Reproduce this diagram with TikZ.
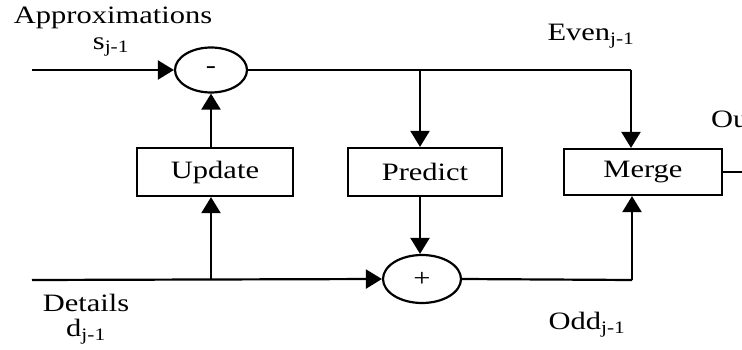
\documentclass[tikz,border=0pt]{standalone}
\usepackage{fontspec}
\setmainfont{Liberation Serif}
\usetikzlibrary{arrows.meta,shapes.geometric}
% horizontally widened text
\newcommand\wide[1]{\scalebox{1.22}[1]{#1}}
\begin{document}
\begin{tikzpicture}[x=1pt,y=-1pt,line width=2.2pt,
  tip/.style={-{Triangle[length=16pt,width=19pt]}},
  blockbox/.style={draw,minimum width=155pt,minimum height=48pt,inner sep=0pt,
    font=\fontsize{25}{28}\selectfont},
  sumnode/.style={draw,ellipse,minimum width=72pt,minimum height=45pt,inner sep=0pt,
    font=\fontsize{25}{28}\selectfont},
  lbl/.style={inner sep=0pt,font=\fontsize{25}{28}\selectfont}]
\useasboundingbox (0,0) rectangle (742,350);
\clip (0,0) rectangle (742,350);

% operators and blocks
\node[sumnode] (sa) at (211,70) {\wide{-}};
\node[sumnode,minimum width=78pt,minimum height=48pt] (sd) at (422,279) {\wide{+}};
\node[blockbox,minimum width=156pt] (up) at (215,172) {\wide{Update}};
\node[blockbox,minimum width=154pt] (pr) at (425,172) {\wide{Predict}};
\node[blockbox,minimum width=158pt,minimum height=46pt] (mg) at (643,172) {\wide{Merge}};

% free ends and corners
\coordinate (ain) at (32,70);
\coordinate (din) at (32,280);
\coordinate (ecorner) at (631,70);
\coordinate (ocorner) at (632,280);
\coordinate (pfork) at (420,70);
\coordinate (out) at (742,172);

% connectors
\draw[tip] (ain) -- (sa.west);
\draw (sa.east) -- (ecorner);
\draw[tip] (ecorner) -- (ecorner |- mg.north);
\draw[tip] (pfork) -- (pfork |- pr.north);
\draw[tip] (sa.south |- up.north) -- (sa.south);
\draw[tip] (din) -- (sd.west);
\draw[tip] (din -| sa.south) -- (sa.south |- up.south);
\draw[tip] (pfork |- pr.south) -- (pfork |- sd.north);
\draw (sd.east) -- (ocorner);
\draw[tip] (ocorner) -- (ocorner |- mg.south);
\draw (mg.east) -- (out);

% labels
\node[lbl] (lapprox) at (113,18) {\wide{Approximations}};
\node[lbl] (ls) at (111,47) {\wide{s\textsubscript{j-1}}};
\node[lbl] (leven) at (591,36) {\wide{Even\textsubscript{j-1}}};
\node[lbl,anchor=west] (lout) at (710,122) {\wide{Output}};
\node[lbl] (ldet) at (86,303) {\wide{Details}};
\node[lbl] (ld) at (86,332) {\wide{d\textsubscript{j-1}}};
\node[lbl] (lodd) at (587,325) {\wide{Odd\textsubscript{j-1}}};
\end{tikzpicture}
\end{document}
